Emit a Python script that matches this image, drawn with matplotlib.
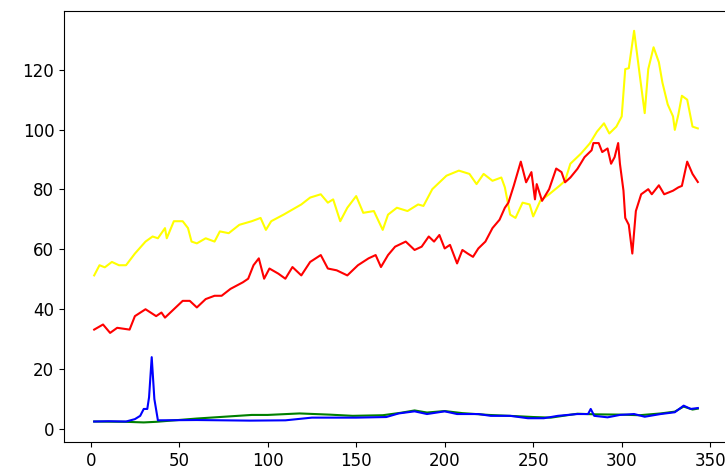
import matplotlib
matplotlib.use("Agg")
import matplotlib.pyplot as plt

# values
yellow_x = [2, 5, 8, 12, 16, 20, 25, 31, 35, 38, 42, 43, 47, 52, 55, 57, 60, 65, 70, 73,
            78, 84, 91, 96, 99, 102, 109, 119, 124, 130, 134, 137, 141, 145, 150, 154, 160, 165, 168, 173,
            179, 185, 188, 193, 201, 208, 214, 218, 222, 227, 232, 234, 237, 240, 244, 248, 250, 254, 259, 265,
            268, 271, 277, 282, 286, 290, 293, 297, 300, 302, 304, 307, 310, 313, 315, 318, 321, 323, 326, 329,
            330, 332, 334, 337, 340, 343]
yellow_y = [51.3, 54.7, 54.0, 55.8, 54.7, 54.7, 58.6, 62.6, 64.3, 63.7, 67.1, 63.7, 69.4, 69.4, 67.1, 62.6, 62.0, 63.7, 62.6, 66.0,
            65.4, 68.2, 69.4, 70.5, 66.5, 69.4, 71.6, 75.0, 77.3, 78.4, 75.6, 76.7, 69.4, 73.9, 77.8, 72.2, 72.8, 66.5, 71.6, 73.9,
            72.8, 75.0, 74.5, 80.1, 84.6, 86.3, 85.2, 81.8, 85.2, 82.9, 84.0, 80.7, 71.6, 70.5, 75.6, 75.0, 71.0, 76.2, 78.4, 81.3,
            82.9, 88.6, 92.0, 95.4, 99.3, 102.1, 98.7, 101.0, 104.4, 120.2, 120.5, 133.0, 119.1, 105.5, 120.2, 127.5, 122.5, 115.7, 108.4, 104.4,
            99.9, 105.0, 111.3, 110.0, 101.0, 100.4]

red_x = [2, 7, 11, 15, 22, 25, 31, 37, 40, 42, 47, 52, 56, 60, 65, 70, 74, 79, 86, 89,
         92, 95, 98, 101, 106, 110, 114, 119, 124, 130, 134, 139, 145, 151, 157, 161, 164, 168, 172, 178,
         183, 187, 191, 194, 197, 200, 203, 207, 210, 213, 216, 219, 223, 227, 231, 234, 236, 239, 243, 246,
         249, 251, 252, 255, 259, 263, 266, 268, 271, 275, 279, 283, 284, 287, 289, 292, 294, 296, 298, 299,
         301, 302, 304, 306, 308, 311, 315, 317, 321, 324, 329, 332, 334, 337, 340, 343]
red_y = [33.2, 34.9, 32.1, 33.8, 33.2, 37.7, 40.0, 37.7, 38.9, 37.2, 40.0, 42.8, 42.8, 40.6, 43.4, 44.5, 44.5, 46.8, 49.0, 50.2,
         54.7, 57.0, 50.2, 53.6, 51.9, 50.2, 54.1, 51.3, 55.8, 58.1, 53.6, 53.0, 51.3, 54.7, 57.0, 58.1, 54.1, 58.1, 60.9, 62.6,
         59.8, 60.9, 64.3, 62.6, 64.8, 60.3, 61.5, 55.3, 59.8, 58.6, 57.5, 60.3, 62.6, 67.1, 69.9, 73.9, 75.6, 81.2, 89.3, 82.4,
         85.8, 76.7, 81.8, 76.2, 80.1, 87.0, 85.8, 82.4, 84.0, 86.9, 90.8, 93.1, 95.5, 95.5, 92.5, 93.7, 88.6, 90.8, 95.5, 88.6,
         79.6, 70.5, 68.2, 58.6, 72.8, 78.4, 80.1, 78.4, 81.4, 78.4, 79.6, 80.7, 81.2, 89.3, 85.2, 82.5]

green_x = [2, 20, 30, 37, 60, 91, 100, 118, 135, 148, 165, 175, 183, 190, 200, 210, 225, 240, 250, 260,
           275, 285, 300, 310, 322, 330, 335, 340, 343]
green_y = [2.5, 2.4, 2.2, 2.4, 3.5, 4.7, 4.7, 5.2, 4.8, 4.4, 4.6, 5.4, 6.2, 5.5, 6.0, 5.3, 4.7, 4.3, 4.0, 3.8,
           5.1, 4.9, 4.8, 4.6, 5.2, 5.8, 7.5, 6.5, 6.8]

blue_x = [2, 10, 20, 25, 28, 30, 32, 33, 34.5, 36, 38, 60, 90, 110, 125, 150, 167, 174, 183, 190,
          200, 207, 219, 226, 237, 247, 256, 264, 275, 281, 282.5, 284.5, 292, 299, 307, 313, 322, 330, 335, 339,
          343]
blue_y = [2.5, 2.6, 2.5, 3.3, 4.4, 6.7, 6.7, 10.6, 24.0, 10.0, 2.9, 3.0, 2.8, 2.9, 3.8, 3.8, 4.0, 5.2, 5.9, 5.0,
          5.9, 5.0, 5.0, 4.4, 4.4, 3.6, 3.6, 4.4, 5.0, 5.0, 6.7, 4.4, 3.9, 4.7, 5.0, 4.1, 5.0, 5.6, 7.8, 6.7,
          7.0]

fig = plt.figure(figsize=(7.25, 4.76), dpi=100)
ax = fig.add_axes([64 / 725, 34 / 476, 664 / 725, 0.905])

ax.plot(yellow_x, yellow_y, color='yellow', linewidth=1.5)
ax.plot(red_x, red_y, color='red', linewidth=1.5)
ax.plot(green_x, green_y, color='green', linewidth=1.5)
ax.plot(blue_x, blue_y, color='blue', linewidth=1.5)

ax.tick_params(labelsize=12)

fig.savefig('out.png', dpi=100)
